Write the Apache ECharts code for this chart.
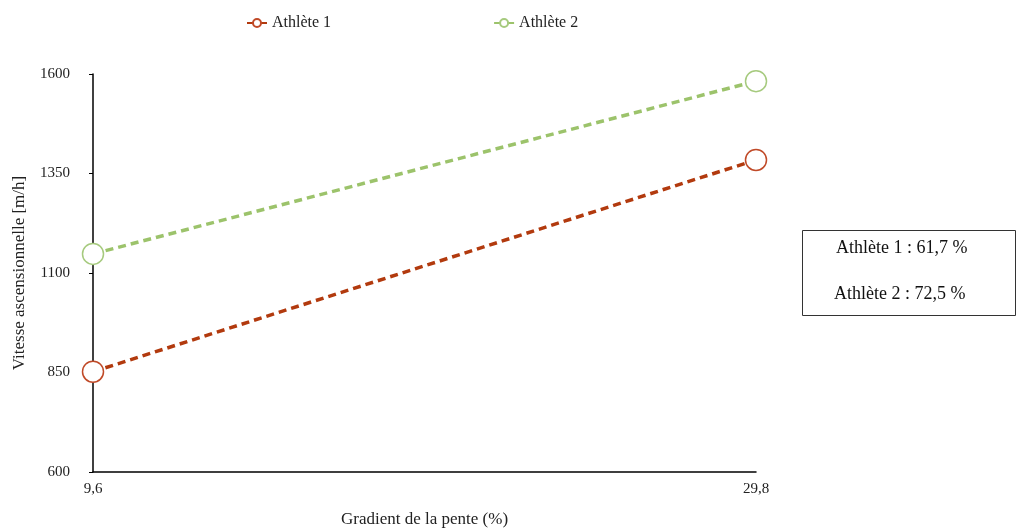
<!DOCTYPE html>
<html><head><meta charset="utf-8">
<script src="https://cdn.jsdelivr.net/npm/echarts@6/dist/echarts.min.js"></script>
<style>html,body{margin:0;padding:0;background:#fff}#c{width:1024px;height:532px}</style>
</head><body><div id="c"></div>
<script>
const categories = ['9,6', '29,8'];
const athlete1 = [852, 1384];
const athlete2 = [1148, 1582];
const seriesNames = ['Athlète 1', 'Athlète 2'];
const yTicks = [600, 850, 1100, 1350, 1600];
const boxLines = ['Athlète 1 : 61,7 %', 'Athlète 2 : 72,5 %'];

const FONT = '"Liberation Serif", "DejaVu Serif", serif';
const chart = echarts.init(document.getElementById('c'), null, {renderer: 'canvas'});
chart.setOption({
  animation: false,
  textStyle: {fontFamily: FONT},
  legend: {
    top: 10, left: 241, itemGap: 162, itemWidth: 20, itemHeight: 10,
    textStyle: {fontFamily: FONT, fontSize: 16, color: '#222'},
    data: seriesNames
  },
  grid: {left: 93, right: 268, top: 74, bottom: 60, containLabel: false, outerBoundsMode: 'none'},
  xAxis: {
    type: 'category', data: categories, boundaryGap: false,
    name: 'Gradient de la pente (%)', nameLocation: 'middle', nameGap: 39,
    nameTextStyle: {fontFamily: FONT, fontSize: 17, color: '#222'},
    axisLine: {lineStyle: {color: '#000', width: 1.5}},
    axisTick: {show: false},
    axisLabel: {fontFamily: FONT, fontSize: 15, color: '#222', margin: 10}
  },
  yAxis: {
    type: 'value', min: yTicks[0], max: yTicks[yTicks.length - 1], interval: 250,
    name: 'Vitesse ascensionnelle [m/h]', nameLocation: 'middle', nameGap: 65,
    nameTextStyle: {fontFamily: FONT, fontSize: 17, color: '#222'},
    axisLine: {show: true, lineStyle: {color: '#000', width: 1.5}},
    axisTick: {show: true, length: 4, lineStyle: {color: '#000'}},
    splitLine: {show: false},
    axisLabel: {fontFamily: FONT, fontSize: 15, color: '#222', margin: 23,
      formatter: v => String(v)}
  },
  series: [
    {
      name: seriesNames[0], type: 'line', data: athlete1,
      symbol: 'circle', symbolSize: 21,
      lineStyle: {color: '#b23a0e', width: 3.5, type: [8, 5]},
      itemStyle: {color: '#fff', borderColor: '#c04a28', borderWidth: 1.5}
    },
    {
      name: seriesNames[1], type: 'line', data: athlete2,
      symbol: 'circle', symbolSize: 21,
      lineStyle: {color: '#9cc36b', width: 3.5, type: [8, 5]},
      itemStyle: {color: '#fff', borderColor: '#a6ca7e', borderWidth: 1.5}
    }
  ],
  graphic: [
    {type: 'rect', left: 802, top: 230, shape: {width: 213, height: 85},
     style: {fill: '#fff', stroke: '#333', lineWidth: 1}},
    {type: 'text', top: 239, left: 836, style: {text: boxLines[0], fill: '#111', font: '18px ' + FONT}},
    {type: 'text', top: 285, left: 834, style: {text: boxLines[1], fill: '#111', font: '18px ' + FONT}}
  ]
});
</script></body></html>
